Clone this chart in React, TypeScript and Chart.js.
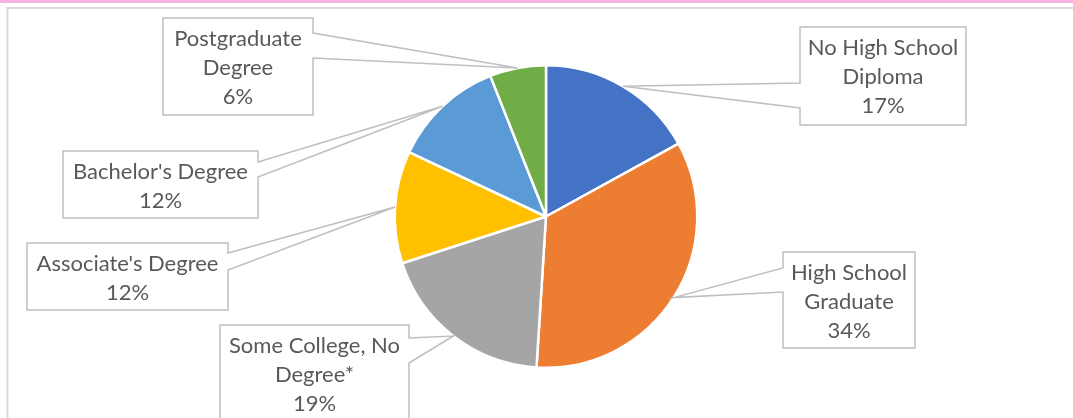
import React, { useEffect, useRef } from "react";
import { Chart, registerables } from "chart.js";

Chart.register(...registerables);

// ---- data ----
const categories = [
  "No High School Diploma",
  "High School Graduate",
  "Some College, No Degree*",
  "Associate's Degree",
  "Bachelor's Degree",
  "Postgraduate Degree",
];
const shares = [17, 34, 19, 12, 12, 6];
const sliceColors = ["#4472C4", "#ED7D31", "#A5A5A5", "#FFC000", "#5B9BD5", "#70AD47"];

// ---- callout layout (pixels) ----
type Box = { x: number; y: number; w: number; h: number; side: "left" | "right"; b1: number; b2: number };
const calloutBoxes: Box[] = [
  { x: 800, y: 27, w: 166, h: 98, side: "left", b1: 83, b2: 108 },
  { x: 783, y: 252, w: 132, h: 96, side: "left", b1: 268, b2: 292 },
  { x: 220, y: 325, w: 189, h: 97, side: "right", b1: 338, b2: 363 },
  { x: 27, y: 243, w: 201, h: 67, side: "right", b1: 253, b2: 270 },
  { x: 63, y: 151, w: 195, h: 67, side: "right", b1: 162, b2: 177 },
  { x: 163, y: 18, w: 150, h: 97, side: "right", b1: 33, b2: 58 },
];

const FONT = "22px Lato, 'Noto Sans', sans-serif";
const TEXT_COLOR = "#595959";
const LINE_COLOR = "#BFBFBF";
const LINE_H = 29;

function wrap(ctx: CanvasRenderingContext2D, text: string, maxW: number): string[] {
  const words = text.split(" ");
  const lines: string[] = [];
  let cur = "";
  for (const w of words) {
    const t = cur ? cur + " " + w : w;
    if (ctx.measureText(t).width <= maxW || !cur) cur = t;
    else {
      lines.push(cur);
      cur = w;
    }
  }
  if (cur) lines.push(cur);
  return lines;
}

const framePlugin = {
  id: "frame",
  beforeDraw(chart: any) {
    const ctx = chart.ctx as CanvasRenderingContext2D;
    const W = chart.width, H = chart.height;
    ctx.save();
    ctx.fillStyle = "#ffffff";
    ctx.fillRect(0, 0, W, H);
    ctx.fillStyle = "#F8B2E4";
    ctx.fillRect(0, 0, W, 3);
    ctx.strokeStyle = "#D9D9D9";
    ctx.lineWidth = 2;
    ctx.beginPath();
    ctx.moveTo(6, 8);
    ctx.lineTo(W, 8);
    ctx.moveTo(7.5, 7);
    ctx.lineTo(7.5, H);
    ctx.stroke();
    ctx.restore();
  },
};

const calloutPlugin = {
  id: "callouts",
  afterDatasetsDraw(chart: any) {
    const ctx = chart.ctx as CanvasRenderingContext2D;
    const meta = chart.getDatasetMeta(0);
    const data = chart.data.datasets[0].data as number[];
    const total = data.reduce((a, b) => a + b, 0);
    ctx.save();
    ctx.font = FONT;
    meta.data.forEach((arc: any, i: number) => {
      const box = calloutBoxes[i];
      if (!box) return;
      const p = arc.getProps(["x", "y", "startAngle", "endAngle", "outerRadius"], true);
      const mid = (p.startAngle + p.endAngle) / 2;
      const ax = p.x + Math.cos(mid) * p.outerRadius;
      const ay = p.y + Math.sin(mid) * p.outerRadius;
      const { x, y, w, h, side, b1, b2 } = box;
      ctx.beginPath();
      if (side === "left") {
        ctx.moveTo(x, y);
        ctx.lineTo(x + w, y);
        ctx.lineTo(x + w, y + h);
        ctx.lineTo(x, y + h);
        ctx.lineTo(x, b2);
        ctx.lineTo(ax, ay);
        ctx.lineTo(x, b1);
      } else {
        ctx.moveTo(x, y);
        ctx.lineTo(x + w, y);
        ctx.lineTo(x + w, b1);
        ctx.lineTo(ax, ay);
        ctx.lineTo(x + w, b2);
        ctx.lineTo(x + w, y + h);
        ctx.lineTo(x, y + h);
      }
      ctx.closePath();
      ctx.fillStyle = "#ffffff";
      ctx.fill();
      ctx.strokeStyle = LINE_COLOR;
      ctx.lineWidth = 1.5;
      ctx.lineJoin = "miter";
      ctx.stroke();

      const pct = Math.round((data[i] / total) * 100) + "%";
      const lines = [...wrap(ctx, chart.data.labels[i], w - 8), pct];
      ctx.fillStyle = TEXT_COLOR;
      ctx.textAlign = "center";
      ctx.textBaseline = "alphabetic";
      lines.forEach((ln, k) => {
        ctx.fillText(ln, x + w / 2, y + 27.5 + k * LINE_H);
      });
    });
    ctx.restore();
  },
};

export default function App() {
  const ref = useRef<HTMLCanvasElement | null>(null);
  useEffect(() => {
    if (!ref.current) return;
    const chart = new Chart(ref.current, {
      type: "pie",
      data: {
        labels: categories,
        datasets: [
          {
            data: shares,
            backgroundColor: sliceColors,
            borderColor: "#ffffff",
            borderWidth: 2.5,
          },
        ],
      },
      options: {
        responsive: false,
        animation: false,
        layout: { padding: { top: 64, bottom: 49, left: 19, right: 0 } },
        plugins: {
          legend: { display: false },
          tooltip: { enabled: false },
        },
      },
      plugins: [framePlugin, calloutPlugin],
    });
    return () => chart.destroy();
  }, []);
  return (
    <div style={{ position: "absolute", left: 0, top: 0, width: 1073, height: 418, background: "#fff" }}>
      <canvas ref={ref} width={1073} height={418} style={{ width: 1073, height: 418, display: "block" }} />
    </div>
  );
}
